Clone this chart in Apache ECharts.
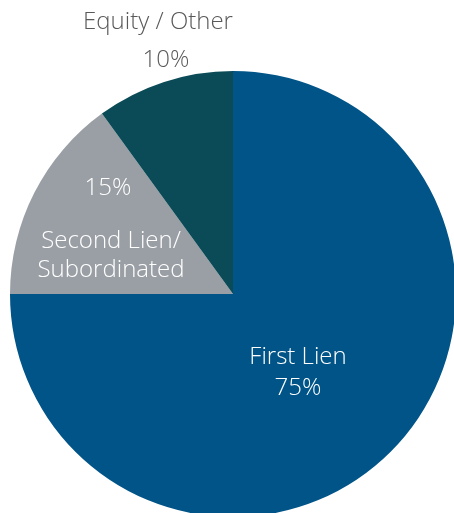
<!DOCTYPE html>
<html>
<head>
<meta charset="utf-8">
<style>
  html, body { margin: 0; padding: 0; background: #ffffff; }
  #chart { width: 454px; height: 513px; }
</style>
<script src="https://cdn.jsdelivr.net/npm/echarts@6/dist/echarts.min.js"></script>
</head>
<body>
<div id="chart"></div>
<script>
// Portfolio composition by position in the capital structure
const categories = ['First Lien', 'Second Lien/\nSubordinated', 'Equity / Other'];
const shares = [75, 15, 10];
const sliceColors = ['#005487', '#9a9fa5', '#0a4b57'];

const chart = echarts.init(document.getElementById('chart'));

// label anchor points (px) for each slice
const labelSpots = [
  { x: 298, y: 373 },
  { x: 111, y: 229 },
  { x: 158, y: 41 }
];
const font = '"Open Sans", "Noto Sans", sans-serif';
const size = 24;

const data = categories.map((name, i) => {
  let label;
  if (i === 0) {
    label = { formatter: '{b}\n{c}%', color: '#ffffff', lineHeight: 31 };
  } else if (i === 1) {
    const txt = { color: '#ffffff', fontSize: size, fontWeight: 300, fontFamily: font, lineHeight: 29 };
    label = {
      formatter: '{p|{c}%}\n{s|}\n{n|Second Lien/}\n{n|Subordinated}',
      color: '#ffffff',
      rich: { p: { ...txt, padding: [0, 6, 0, 0] }, s: { lineHeight: 24 }, n: txt }
    };
  } else {
    const txt = { color: '#595959', fontSize: size, fontWeight: 300, fontFamily: font, lineHeight: 38 };
    label = {
      formatter: '{n|{b}}\n{p|{c}%}',
      color: '#595959',
      rich: { n: txt, p: { ...txt, padding: [0, 0, 0, 16] } }
    };
  }
  return { name, value: shares[i], itemStyle: { color: sliceColors[i] }, label };
});

chart.setOption({
  animation: false,
  series: [{
    type: 'pie',
    center: [233, 294],
    radius: 223,
    startAngle: 90,
    clockwise: true,
    silent: true,
    itemStyle: { borderWidth: 0 },
    label: {
      show: true,
      position: 'inside',
      fontSize: size,
      fontWeight: 300,
      fontFamily: font,
      align: 'center',
      verticalAlign: 'middle'
    },
    labelLine: { show: false },
    labelLayout: function (params) {
      const spot = labelSpots[params.dataIndex];
      return { x: spot.x, y: spot.y, align: 'center', verticalAlign: 'middle' };
    },
    data
  }]
});
</script>
</body>
</html>
